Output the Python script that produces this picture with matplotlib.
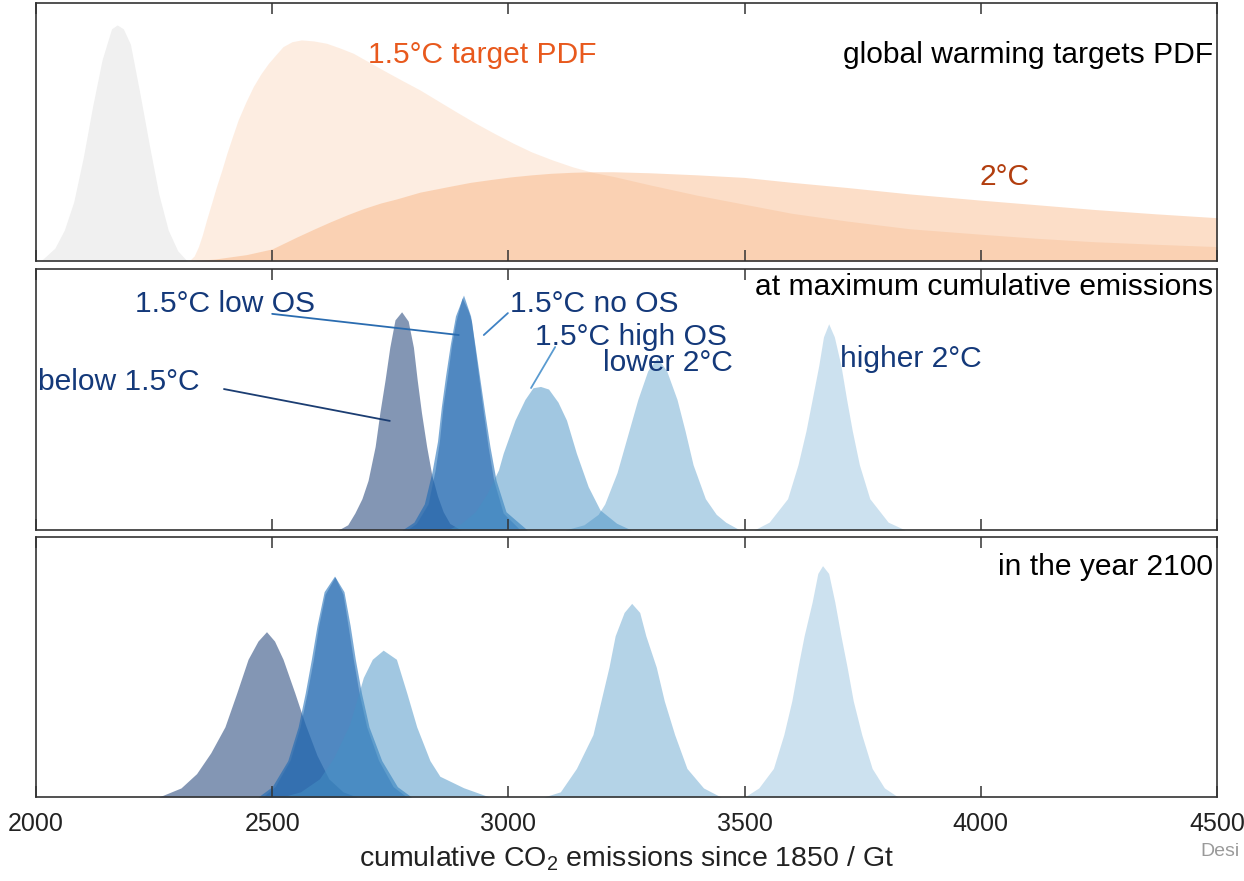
import numpy as np
import matplotlib.pyplot as plt

plt.rcParams['font.family'] = ['Liberation Sans', 'DejaVu Sans']
plt.rcParams['mathtext.fontset'] = 'custom'
plt.rcParams['mathtext.rm'] = 'Liberation Sans'
plt.rcParams['mathtext.it'] = 'Liberation Sans:italic'

# --- top panel: global warming target PDFs (relative density) ---
gray_x = [2010, 2040, 2060, 2080, 2100, 2120, 2140, 2160, 2172, 2185, 2200, 2220, 2240, 2260, 2280, 2300, 2320]
gray_y = [0.0, 0.05, 0.12, 0.23, 0.40, 0.60, 0.78, 0.90, 0.915, 0.90, 0.84, 0.65, 0.45, 0.26, 0.12, 0.04, 0.0]

pdf15_x = [2324, 2335, 2344, 2352, 2361, 2371, 2382, 2393, 2404, 2416, 2428, 2444, 2460, 2476, 2492, 2508,
           2523, 2542, 2562, 2588, 2615, 2643, 2672, 2703, 2735, 2775, 2813, 2850, 2890, 2930, 2970, 3010,
           3049, 3093, 3136, 3180, 3222, 3300, 3400, 3500, 3600, 3717, 3850, 4000, 4120, 4239, 4370, 4500]
pdf15_y = [0.0, 0.02, 0.056, 0.10, 0.159, 0.22, 0.288, 0.35, 0.417, 0.483, 0.547, 0.615, 0.676, 0.725, 0.766, 0.80,
           0.831, 0.85, 0.857, 0.853, 0.844, 0.826, 0.805, 0.773, 0.740, 0.70, 0.663, 0.622, 0.578, 0.535, 0.495, 0.457,
           0.423, 0.392, 0.365, 0.343, 0.328, 0.295, 0.255, 0.22, 0.185, 0.155, 0.125, 0.104, 0.088, 0.075, 0.065, 0.056]

pdf20_x = [2326, 2380, 2446, 2500, 2552, 2590, 2622, 2660, 2693, 2730, 2764, 2813, 2877, 2920, 2963, 3005,
           3049, 3090, 3136, 3180, 3222, 3300, 3400, 3500, 3600, 3717, 3850, 4000, 4120, 4239, 4370, 4500]
pdf20_y = [0.0, 0.008, 0.025, 0.047, 0.093, 0.125, 0.151, 0.18, 0.203, 0.225, 0.241, 0.267, 0.29, 0.305, 0.316, 0.326,
           0.334, 0.340, 0.344, 0.346, 0.346, 0.342, 0.334, 0.324, 0.305, 0.285, 0.26, 0.236, 0.218, 0.20, 0.183, 0.168]

# --- middle panel: at maximum cumulative emissions ---
max_below_x = [2640, 2660, 2675, 2690, 2703, 2718, 2728, 2739, 2749, 2760, 2774, 2788, 2799, 2807, 2816, 2827,
               2838, 2850, 2862, 2876, 2900]
max_below_y = [0.0, 0.02, 0.065, 0.12, 0.19, 0.32, 0.45, 0.575, 0.70, 0.805, 0.836, 0.80, 0.70, 0.575, 0.45, 0.32,
               0.21, 0.13, 0.07, 0.025, 0.0]
max_noos_x = [2775, 2800, 2822, 2838, 2850, 2858, 2867, 2877, 2888, 2905, 2920, 2930, 2940, 2950, 2961, 2974, 2995, 3040]
max_noos_y = [0.0, 0.03, 0.10, 0.22, 0.34, 0.47, 0.59, 0.71, 0.82, 0.90, 0.82, 0.70, 0.575, 0.45, 0.32, 0.19, 0.07, 0.0]
max_lowos_x = [2785, 2805, 2830, 2845, 2854, 2862, 2871, 2880, 2889, 2902, 2915, 2922, 2929, 2938, 2947, 2957, 2969, 2989, 3025]
max_lowos_y = [0.0, 0.025, 0.10, 0.23, 0.34, 0.48, 0.59, 0.71, 0.80, 0.89, 0.84, 0.80, 0.70, 0.575, 0.45, 0.32, 0.19, 0.065, 0.0]
max_highos_x = [2870, 2900, 2930, 2955, 2979, 2989, 3014, 3035, 3052, 3068, 3085, 3105, 3123, 3144, 3169, 3194, 3229, 3260]
max_highos_y = [0.0, 0.025, 0.07, 0.14, 0.23, 0.294, 0.421, 0.50, 0.545, 0.55, 0.54, 0.49, 0.421, 0.294, 0.166, 0.077, 0.026, 0.0]
max_low2_x = [3120, 3160, 3190, 3204, 3230, 3252, 3274, 3295, 3315, 3335, 3357, 3374, 3391, 3417, 3440, 3460, 3490]
max_low2_y = [0.0, 0.02, 0.06, 0.10, 0.22, 0.36, 0.50, 0.61, 0.66, 0.61, 0.50, 0.38, 0.25, 0.12, 0.06, 0.03, 0.0]
max_high2_x = [3520, 3552, 3591, 3613, 3630, 3643, 3657, 3667, 3678, 3690, 3704, 3716, 3728, 3743, 3765, 3804, 3840]
max_high2_y = [0.0, 0.03, 0.12, 0.25, 0.38, 0.50, 0.63, 0.74, 0.79, 0.74, 0.63, 0.50, 0.38, 0.25, 0.12, 0.03, 0.0]

# --- bottom panel: in the year 2100 ---
y21_below_x = [2260, 2307, 2340, 2370, 2400, 2425, 2449, 2470, 2488, 2505, 2523, 2548, 2570, 2595, 2620, 2650, 2680]
y21_below_y = [0.0, 0.035, 0.09, 0.17, 0.27, 0.40, 0.53, 0.60, 0.636, 0.60, 0.53, 0.40, 0.28, 0.16, 0.07, 0.02, 0.0]
y21_noos_x = [2470, 2500, 2533, 2555, 2570, 2583, 2595, 2610, 2632, 2652, 2665, 2676, 2689, 2705, 2732, 2765, 2795]
y21_noos_y = [0.0, 0.04, 0.14, 0.27, 0.40, 0.53, 0.66, 0.79, 0.85, 0.79, 0.66, 0.53, 0.40, 0.27, 0.14, 0.04, 0.0]
y21_lowos_x = [2480, 2506, 2538, 2559, 2574, 2587, 2598, 2612, 2633, 2650, 2661, 2672, 2684, 2700, 2725, 2756, 2785]
y21_lowos_y = [0.0, 0.04, 0.142, 0.27, 0.40, 0.527, 0.655, 0.78, 0.847, 0.78, 0.655, 0.527, 0.40, 0.27, 0.142, 0.04, 0.0]
y21_highos_x = [2520, 2560, 2600, 2630, 2664, 2693, 2712, 2735, 2763, 2785, 2806, 2834, 2855, 2905, 2960]
y21_highos_y = [0.0, 0.02, 0.07, 0.15, 0.28, 0.46, 0.53, 0.565, 0.53, 0.40, 0.27, 0.14, 0.08, 0.036, 0.0]
y21_low2_x = [3075, 3110, 3144, 3179, 3196, 3213, 3226, 3245, 3261, 3278, 3291, 3313, 3330, 3352, 3378, 3413, 3450]
y21_low2_y = [0.0, 0.02, 0.11, 0.24, 0.37, 0.50, 0.62, 0.71, 0.745, 0.71, 0.62, 0.50, 0.37, 0.24, 0.11, 0.035, 0.0]
y21_high2_x = [3500, 3530, 3561, 3583, 3600, 3613, 3626, 3643, 3655, 3665, 3678, 3691, 3704, 3717, 3730, 3748,
               3770, 3796, 3825]
y21_high2_y = [0.0, 0.035, 0.11, 0.24, 0.37, 0.50, 0.62, 0.75, 0.86, 0.89, 0.86, 0.75, 0.62, 0.50, 0.37, 0.24,
               0.11, 0.035, 0.0]

xticks = [2000, 2500, 3000, 3500, 4000, 4500]

c_below = '#092F6B'
c_noos = '#0F64B4'
c_lowos = '#2768AE'
c_light = '#4591C5'
c_orange = '#F58A3C'
c_label = '#14397A'

fig = plt.figure(figsize=(12.44, 8.81), dpi=100)
ax1 = fig.add_axes([0.0289, 0.7037, 0.9494, 0.2929])
ax2 = fig.add_axes([0.0289, 0.3984, 0.9494, 0.2963])
ax3 = fig.add_axes([0.0289, 0.0953, 0.9494, 0.2951])

for ax in (ax1, ax2, ax3):
    ax.set_xlim(2000, 4500)
    ax.set_ylim(0, 1)
    ax.set_yticks([])
    ax.set_xticks(xticks)
    ax.tick_params(axis='x', direction='in', top=True, bottom=True, length=8, width=1.1,
                   color='#333333', labelsize=18, pad=11, labelcolor='#222222')
    for s in ax.spines.values():
        s.set_color('#333333')
        s.set_linewidth(1.2)
ax1.tick_params(labelbottom=False)
ax2.tick_params(labelbottom=False)

# top panel
ax1.fill_between(gray_x, gray_y, color='#F0F0F0', lw=0)
ax1.fill_between(pdf15_x, pdf15_y, color=c_orange, alpha=0.15, lw=0)
ax1.fill_between(pdf20_x, pdf20_y, color=c_orange, alpha=0.28, lw=0)
ax1.text(2703, 0.80, '1.5°C target PDF', color='#E8591D', fontsize=21.6, va='center', ha='left')
ax1.text(4491, 0.80, 'global warming targets PDF', color='black', fontsize=21.6, va='center', ha='right')
ax1.text(3998, 0.326, '2°C', color='#B23E0F', fontsize=21.6, va='center', ha='left')

# middle panel
ax2.fill_between(max_below_x, max_below_y, color=c_below, alpha=0.5, lw=0)
ax2.fill_between(max_noos_x, max_noos_y, color=c_noos, alpha=0.55, lw=0)
ax2.fill_between(max_lowos_x, max_lowos_y, color=c_lowos, alpha=0.5, lw=0)
ax2.fill_between(max_highos_x, max_highos_y, color=c_light, alpha=0.5, lw=0)
ax2.fill_between(max_low2_x, max_low2_y, color=c_light, alpha=0.4, lw=0)
ax2.fill_between(max_high2_x, max_high2_y, color=c_light, alpha=0.27, lw=0)

ax2.text(4491, 0.931, 'at maximum cumulative emissions', color='black', fontsize=21.6, va='center', ha='right')
ax2.text(2210, 0.866, '1.5°C low OS', color=c_label, fontsize=21.6, va='center', ha='left')
ax2.text(2004, 0.567, 'below 1.5°C', color=c_label, fontsize=21.6, va='center', ha='left')
ax2.text(3003, 0.866, '1.5°C no OS', color=c_label, fontsize=21.6, va='center', ha='left')
ax2.text(3056, 0.739, '1.5°C high OS', color=c_label, fontsize=21.6, va='center', ha='left')
ax2.text(3200, 0.640, 'lower 2°C', color=c_label, fontsize=21.6, va='center', ha='left')
ax2.text(3702, 0.655, 'higher 2°C', color=c_label, fontsize=21.6, va='center', ha='left')

ax2.annotate('', xy=(2895, 0.747), xytext=(2500, 0.828),
             arrowprops=dict(arrowstyle='-', color='#2A6CB0', lw=1.3, shrinkA=0, shrinkB=0))
ax2.annotate('', xy=(2749, 0.418), xytext=(2398, 0.540),
             arrowprops=dict(arrowstyle='-', color='#1B3D72', lw=1.3, shrinkA=0, shrinkB=0))
ax2.annotate('', xy=(2948, 0.747), xytext=(2999, 0.831),
             arrowprops=dict(arrowstyle='-', color='#3F82C4', lw=1.3, shrinkA=0, shrinkB=0))
ax2.annotate('', xy=(3048, 0.544), xytext=(3099, 0.701),
             arrowprops=dict(arrowstyle='-', color='#5A9BD0', lw=1.3, shrinkA=0, shrinkB=0))

# bottom panel
ax3.fill_between(y21_below_x, y21_below_y, color=c_below, alpha=0.5, lw=0)
ax3.fill_between(y21_noos_x, y21_noos_y, color=c_noos, alpha=0.55, lw=0)
ax3.fill_between(y21_lowos_x, y21_lowos_y, color=c_lowos, alpha=0.5, lw=0)
ax3.fill_between(y21_highos_x, y21_highos_y, color=c_light, alpha=0.5, lw=0)
ax3.fill_between(y21_low2_x, y21_low2_y, color=c_light, alpha=0.4, lw=0)
ax3.fill_between(y21_high2_x, y21_high2_y, color=c_light, alpha=0.27, lw=0)
ax3.text(4491, 0.885, 'in the year 2100', color='black', fontsize=21.6, va='center', ha='right')

ax3.set_xlabel('cumulative CO$_2$ emissions since 1850 / Gt', fontsize=20.5, color='#222222', labelpad=6)

fig.text(0.9646, 0.033, 'Desi', color='#9A9A9A', fontsize=14, va='center', ha='left')

fig.savefig('out.png', dpi=100)
